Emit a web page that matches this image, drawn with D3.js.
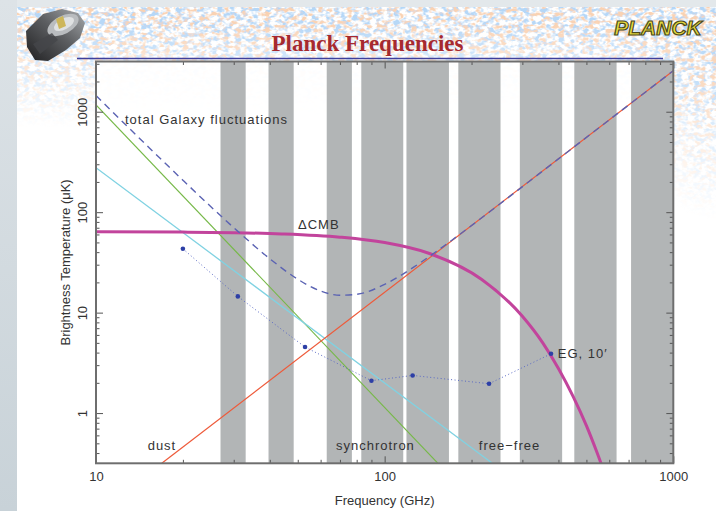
<!DOCTYPE html>
<html>
<head>
<meta charset="utf-8">
<script src="https://cdn.jsdelivr.net/npm/d3@7"></script>
<style>
  html, body { margin: 0; padding: 0; background: #e3e8eb; }
  svg { display: block; }
  text { font-family: "Liberation Sans", Arial, sans-serif; fill: #333; }
</style>
</head>
<body>
<div id="chart"></div>
<script>
// Data
const bandLow = [27, 39.6, 63, 83, 119, 180, 294, 454, 714]
const bandHigh = [33, 48.4, 77, 116, 167, 252, 412, 636, 1000]

const cmbFreq = [10, 20, 30, 44, 70, 100, 143, 217, 300, 353, 400, 450, 500, 545, 580]
const cmbTemp = [63.8, 63.3, 62.5, 60.8, 56.4, 49.8, 38.8, 21.4, 9.2, 5.0, 2.78, 1.46, 0.75, 0.40, 0.245]

const galaxyFreq = [10, 15, 20, 30, 40, 50, 60, 70, 80, 100, 130, 170, 250, 400, 1000]
const galaxyTemp = [1447, 462, 208, 70.2, 34.4, 21.5, 16.4, 14.9, 15.2, 19.1, 30.1, 52, 120, 339, 2560]

const synchFreq = [10, 153]
const synchTemp = [1170, 0.316]
const freefreeFreq = [10, 236]
const freefreeTemp = [277, 0.316]
const dustFreq = [16.9, 1000]
const dustTemp = [0.316, 2560]

const egFreq = [20, 31, 53, 90, 125, 230, 377]
const egTemp = [43.2, 14.5, 4.54, 2.10, 2.37, 1.96, 3.89]

const xTicks = [10, 100, 1000]
const xTickLabels = ['10', '100', '1000']
const yTicks = [1, 10, 100, 1000]
const yTickLabels = ['1', '10', '100', '1000']

function draw() {
  // Dimensions
  let dimensions = {
    width: 716,
    height: 511,
    margins: { top: 61.5, right: 42.7, bottom: 47.7, left: 96 },
  }
  dimensions.ctrWidth = dimensions.width - dimensions.margins.left - dimensions.margins.right
  dimensions.ctrHeight = dimensions.height - dimensions.margins.top - dimensions.margins.bottom

  const svg = d3.select('#chart')
    .append('svg')
    .attr('width', dimensions.width)
    .attr('height', dimensions.height)

  const defs = svg.append('defs')

  // speckled CMB-map look of the slide header
  const noise = defs.append('filter').attr('id', 'cmbNoise')
    .attr('x', 0).attr('y', 0).attr('width', '100%').attr('height', '100%')
  noise.append('feTurbulence').attr('type', 'fractalNoise')
    .attr('baseFrequency', '0.17 0.24').attr('numOctaves', 2).attr('seed', 11).attr('result', 'n')
  noise.append('feColorMatrix').attr('in', 'n').attr('type', 'matrix')
    .attr('values', '0 0 0 0 0.95  0 0 0 0 0.64  0 0 0 0 0.44  4.5 0 0 0 -2.2').attr('result', 'warm')
  noise.append('feColorMatrix').attr('in', 'n').attr('type', 'matrix')
    .attr('values', '0 0 0 0 0.45  0 0 0 0 0.67  0 0 0 0 0.93  0 4.5 0 0 -1.95').attr('result', 'cool')
  const merge = noise.append('feMerge')
  merge.append('feMergeNode').attr('in', 'cool')
  merge.append('feMergeNode').attr('in', 'warm')

  const fade = defs.append('linearGradient').attr('id', 'fade')
    .attr('x1', 0).attr('y1', 0).attr('x2', 0).attr('y2', 1)
  fade.append('stop').attr('offset', '0%').attr('stop-color', '#fff')
  fade.append('stop').attr('offset', '12%').attr('stop-color', '#f0f0f0')
  fade.append('stop').attr('offset', '26%').attr('stop-color', '#999')
  fade.append('stop').attr('offset', '58%').attr('stop-color', '#000')
  const corner = defs.append('radialGradient').attr('id', 'corner')
  corner.append('stop').attr('offset', '0%').attr('stop-color', '#fff').attr('stop-opacity', 0.8)
  corner.append('stop').attr('offset', '100%').attr('stop-color', '#fff').attr('stop-opacity', 0)

  const mask = defs.append('mask').attr('id', 'headMask')
  mask.append('rect').attr('x', 0).attr('y', 0).attr('width', 716).attr('height', 220).attr('fill', 'url(#fade)')
  mask.append('ellipse').attr('cx', 716).attr('cy', 60).attr('rx', 100).attr('ry', 160).attr('fill', 'url(#corner)')

  const strip = defs.append('linearGradient').attr('id', 'strip')
    .attr('x1', 0).attr('y1', 0).attr('x2', 0).attr('y2', 1)
  strip.append('stop').attr('offset', '0%').attr('stop-color', '#dde3e7')
  strip.append('stop').attr('offset', '100%').attr('stop-color', '#c8d2d8')

  const metal = defs.append('linearGradient').attr('id', 'metal')
    .attr('x1', 0).attr('y1', 1).attr('x2', 1).attr('y2', 0)
  metal.append('stop').attr('offset', '0%').attr('stop-color', '#1f1f21')
  metal.append('stop').attr('offset', '55%').attr('stop-color', '#5d5f62')
  metal.append('stop').attr('offset', '100%').attr('stop-color', '#a9acaf')

  // Slide background
  svg.append('rect').attr('width', 17).attr('height', dimensions.height).attr('fill', 'url(#strip)')
  svg.append('rect').attr('x', 17).attr('y', 7).attr('width', dimensions.width - 17)
    .attr('height', dimensions.height - 7).attr('fill', '#fff')
  svg.append('rect').attr('x', 17).attr('y', 7).attr('width', dimensions.width - 17).attr('height', 220)
    .attr('filter', 'url(#cmbNoise)').attr('mask', 'url(#headMask)')

  // Spacecraft sketch
  const craft = svg.append('g')
  craft.append('path')
    .attr('d', 'M26,31 L43,14 L62,9 L78,13 L85,23 L80,38 L66,50 L48,61 L35,60 L27,47 Z')
    .attr('fill', 'url(#metal)')
  craft.append('ellipse')
    .attr('transform', 'translate(63,25) rotate(-28)')
    .attr('rx', 17).attr('ry', 9).attr('fill', '#b9bcbf')
  craft.append('ellipse')
    .attr('transform', 'translate(64,24) rotate(-28)')
    .attr('rx', 11).attr('ry', 5.5).attr('fill', '#dfe1e2')
  craft.append('path')
    .attr('d', 'M56,19 L63,16 L66,26 L59,29 Z')
    .attr('fill', '#cdb65a')
  craft.append('path')
    .attr('d', 'M33,44 L52,33 L58,40 L40,54 Z')
    .attr('fill', '#45464a').attr('opacity', 0.8)

  // PLANCK logo
  svg.append('text')
    .attr('x', 658).attr('y', 35)
    .attr('text-anchor', 'middle')
    .style('font-size', '21px').style('font-weight', 'bold').style('font-style', 'italic')
    .style('fill', '#e6da3e').style('stroke', '#4d4a1c').style('stroke-width', 1.2)
    .text('PLANCK')

  // Title + rule
  svg.append('text')
    .attr('x', 367.5).attr('y', 50.5)
    .attr('text-anchor', 'middle')
    .style('font-family', '"Liberation Serif", "Times New Roman", serif')
    .style('font-size', '23px').style('font-weight', 'bold')
    .style('fill', '#a6292f')
    .text('Planck Frequencies')
  svg.append('line')
    .attr('x1', 77).attr('x2', 663).attr('y1', 58.5).attr('y2', 58.5)
    .attr('stroke', '#3f3f9c').attr('stroke-width', 1.4)

  // Scales
  const xScale = d3.scaleLog()
    .domain([10, 1000])
    .range([0, dimensions.ctrWidth])
  const yScale = d3.scaleLog()
    .domain([Math.pow(10, -0.5), Math.pow(10, 3.5)])
    .range([dimensions.ctrHeight, 0])

  const ctr = svg.append('g')
    .attr('transform', `translate(${dimensions.margins.left}, ${dimensions.margins.top})`)

  defs.append('clipPath').attr('id', 'plotClip')
    .append('rect').attr('width', dimensions.ctrWidth).attr('height', dimensions.ctrHeight)

  ctr.append('rect')
    .attr('width', dimensions.ctrWidth).attr('height', dimensions.ctrHeight)
    .attr('fill', '#fff').attr('opacity', 0.9)

  const plot = ctr.append('g').attr('clip-path', 'url(#plotClip)')

  // Planck bands
  plot.selectAll('rect.band')
    .data(bandLow.map((lo, i) => [lo, bandHigh[i]]))
    .join('rect')
    .attr('class', 'band')
    .attr('x', d => xScale(d[0]))
    .attr('width', d => xScale(d[1]) - xScale(d[0]))
    .attr('y', 0)
    .attr('height', dimensions.ctrHeight)
    .attr('fill', '#b2b5b6')

  const zip = (f, t) => f.map((v, i) => [v, t[i]])
  const line = d3.line()
    .x(d => xScale(d[0]))
    .y(d => yScale(d[1]))
  const smooth = d3.line()
    .x(d => xScale(d[0]))
    .y(d => yScale(d[1]))
    .curve(d3.curveMonotoneX)

  plot.append('path').datum(zip(synchFreq, synchTemp))
    .attr('d', line).attr('fill', 'none').attr('stroke', '#76b848').attr('stroke-width', 1.2)
  plot.append('path').datum(zip(freefreeFreq, freefreeTemp))
    .attr('d', line).attr('fill', 'none').attr('stroke', '#80d2e2').attr('stroke-width', 1.3)
  plot.append('path').datum(zip(dustFreq, dustTemp))
    .attr('d', line).attr('fill', 'none').attr('stroke', '#ee5a3a').attr('stroke-width', 1.2)
  plot.append('path').datum(zip(cmbFreq, cmbTemp))
    .attr('d', smooth).attr('fill', 'none').attr('stroke', '#c2449c').attr('stroke-width', 3)
  plot.append('path').datum(zip(galaxyFreq, galaxyTemp))
    .attr('d', smooth).attr('fill', 'none').attr('stroke', '#5b63b3')
    .attr('stroke-width', 1.4).attr('stroke-dasharray', '7,5')

  // Extragalactic sources, 10'
  const eg = zip(egFreq, egTemp)
  plot.append('path').datum(eg)
    .attr('d', line).attr('fill', 'none').attr('stroke', '#5a6ac4')
    .attr('stroke-width', 1).attr('stroke-dasharray', '1,2.5')
  plot.selectAll('circle')
    .data(eg)
    .join('circle')
    .attr('cx', d => xScale(d[0]))
    .attr('cy', d => yScale(d[1]))
    .attr('r', 2.3)
    .attr('fill', '#2d3fa6')

  // Axes: IDL style, ticks inside on all four sides
  const minorX = d3.range(1, 3).flatMap(e => d3.range(2, 10).map(m => m * Math.pow(10, e)))
  const minorY = d3.range(-1, 4).flatMap(e => d3.range(2, 10).map(m => m * Math.pow(10, e)))
    .filter(v => v > yScale.domain()[0] && v < yScale.domain()[1])

  const axisStyle = g => {
    g.select('.domain').remove()
    g.selectAll('line').attr('stroke', '#555').attr('stroke-width', 1)
    g.selectAll('text').style('font-family', '"Liberation Sans", Arial, sans-serif')
      .style('font-size', '13px').attr('fill', '#333')
  }

  const sides = [
    { axis: d3.axisBottom, scale: xScale, minor: minorX, shift: `translate(0,${dimensions.ctrHeight})` },
    { axis: d3.axisTop, scale: xScale, minor: minorX, shift: 'translate(0,0)' },
    { axis: d3.axisLeft, scale: yScale, minor: minorY, shift: 'translate(0,0)' },
    { axis: d3.axisRight, scale: yScale, minor: minorY, shift: `translate(${dimensions.ctrWidth},0)` },
  ]
  sides.forEach(s => {
    const major = s.scale === xScale ? xTicks : yTicks
    ctr.append('g').attr('transform', s.shift)
      .call(s.axis(s.scale).tickValues(s.minor).tickSize(-3.5).tickSizeOuter(0).tickFormat(''))
      .call(axisStyle)
    ctr.append('g').attr('transform', s.shift)
      .call(s.axis(s.scale).tickValues(major).tickSize(-7).tickSizeOuter(0).tickFormat(''))
      .call(axisStyle)
  })

  // Tick labels
  ctr.append('g')
    .attr('transform', `translate(0,${dimensions.ctrHeight})`)
    .call(d3.axisBottom(xScale).tickValues(xTicks).tickSize(0).tickPadding(8)
      .tickFormat((d, i) => xTickLabels[i]))
    .call(axisStyle)

  ctr.append('g')
    .call(d3.axisLeft(yScale).tickValues(yTicks).tickSize(0)
      .tickFormat((d, i) => yTickLabels[i]))
    .call(axisStyle)
    .call(g => g.selectAll('text')
      .attr('x', 0).attr('dy', 0).attr('y', 0)
      .attr('text-anchor', 'middle')
      .attr('transform', 'translate(-9,0) rotate(-90)'))

  // Frame
  ctr.append('rect')
    .attr('width', dimensions.ctrWidth).attr('height', dimensions.ctrHeight)
    .attr('fill', 'none').attr('stroke', '#6e6e6e').attr('stroke-width', 2)

  // Axis titles
  ctr.append('text')
    .attr('x', dimensions.ctrWidth / 2)
    .attr('y', dimensions.ctrHeight + 42)
    .attr('text-anchor', 'middle')
    .style('font-size', '13px')
    .text('Frequency (GHz)')
  ctr.append('text')
    .attr('transform', `translate(-26,${dimensions.ctrHeight / 2}) rotate(-90)`)
    .attr('text-anchor', 'middle')
    .style('font-size', '13px')
    .text('Brightness Temperature (\u03bcK)')

  // Curve labels, anchored in data coordinates
  const labels = [
    { text: 'total Galaxy fluctuations', f: 12.6, v: 760 },
    { text: '\u0394CMB', f: 50.1, v: 67.6 },
    { text: 'EG, 10\u2032', f: 398, v: 3.55 },
    { text: 'dust', f: 15.1, v: 0.431 },
    { text: 'synchrotron', f: 67.8, v: 0.431 },
    { text: 'free\u2212free', f: 212, v: 0.431 },
  ]
  ctr.append('g')
    .selectAll('text')
    .data(labels)
    .join('text')
    .attr('x', d => xScale(d.f))
    .attr('y', d => yScale(d.v))
    .style('font-size', '13px')
    .style('letter-spacing', '1px')
    .text(d => d.text)
}

draw()
</script>
</body>
</html>
